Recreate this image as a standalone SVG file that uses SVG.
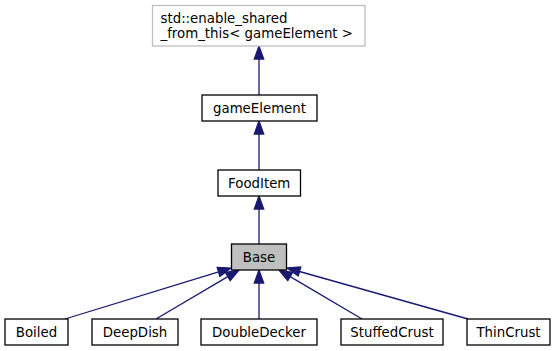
<svg xmlns="http://www.w3.org/2000/svg" width="556" height="351" viewBox="0 0 556 351">
  <style>
    .node rect { fill: #ffffff; stroke: #000000; stroke-width: 1.3; }
    .node text { font-family: "DejaVu Sans", "Liberation Sans", sans-serif; font-size: 13.33px; fill: #000000; }
    .c { text-anchor: middle; }
    #n_shared rect { stroke: #bfbfbf; }
    #n_base rect { fill: #bfbfbf; }
    .edges line { stroke: #191970; stroke-width: 1.3; fill: none; }
    .edges polygon { fill: #191970; stroke: #191970; stroke-width: 1.3; }
  </style>

  <rect width="556" height="351" fill="#ffffff"/>

  <!-- inheritance edges, arrowheads point at the base class -->
  <g class="edges" id="edges">
    <line x1="259" y1="95" x2="259" y2="59"/>
    <polygon points="259,46 263.7,59 254.3,59"/>

    <line x1="259" y1="170" x2="259" y2="134"/>
    <polygon points="259,121 263.7,134 254.3,134"/>

    <line x1="259" y1="244" x2="259" y2="209"/>
    <polygon points="259,196 263.7,209 254.3,209"/>

    <line x1="65" y1="319" x2="218.6" y2="271.8"/>
    <polygon points="231,268 219.95,276.31 217.19,267.33"/>

    <line x1="156" y1="319" x2="227.8" y2="276.6"/>
    <polygon points="239,270 230.19,280.66 225.41,272.56"/>

    <line x1="259" y1="319" x2="259" y2="283"/>
    <polygon points="259,270 263.7,283 254.3,283"/>

    <line x1="362" y1="319" x2="290.2" y2="276.6"/>
    <polygon points="279,270 287.81,280.66 292.59,272.56"/>

    <line x1="468" y1="319" x2="299.5" y2="271.5"/>
    <polygon points="287,268 300.78,267.01 298.24,276.05"/>
  </g>

  <g class="node" id="n_shared">
    <rect x="152.5" y="5.5" width="212.5" height="40.5"/>
    <text x="160.5" y="22.5">std::enable_shared</text>
    <text x="160.5" y="37.5">_from_this&lt; gameElement &gt;</text>
  </g>

  <g class="node" id="n_gameElement">
    <rect x="202" y="95" width="115" height="26"/>
    <text class="c" x="259.5" y="112.5">gameElement</text>
  </g>

  <g class="node" id="n_fooditem">
    <rect x="218" y="170" width="82.5" height="26"/>
    <text class="c" x="259.2" y="187.5">FoodItem</text>
  </g>

  <g class="node" id="n_base">
    <rect x="231.5" y="244" width="55" height="26"/>
    <text class="c" x="259" y="261.5">Base</text>
  </g>

  <g class="node" id="n_boiled">
    <rect x="5" y="319" width="63" height="26"/>
    <text class="c" x="36.5" y="336.5">Boiled</text>
  </g>

  <g class="node" id="n_deepdish">
    <rect x="92" y="319" width="86" height="26"/>
    <text class="c" x="135" y="336.5">DeepDish</text>
  </g>

  <g class="node" id="n_doubledecker">
    <rect x="201" y="319" width="116" height="26"/>
    <text class="c" x="259" y="336.5">DoubleDecker</text>
  </g>

  <g class="node" id="n_stuffedcrust">
    <rect x="341" y="319" width="102" height="26"/>
    <text class="c" x="392" y="336.5">StuffedCrust</text>
  </g>

  <g class="node" id="n_thincrust">
    <rect x="467" y="319" width="83" height="26"/>
    <text class="c" x="508.5" y="336.5">ThinCrust</text>
  </g>
</svg>
